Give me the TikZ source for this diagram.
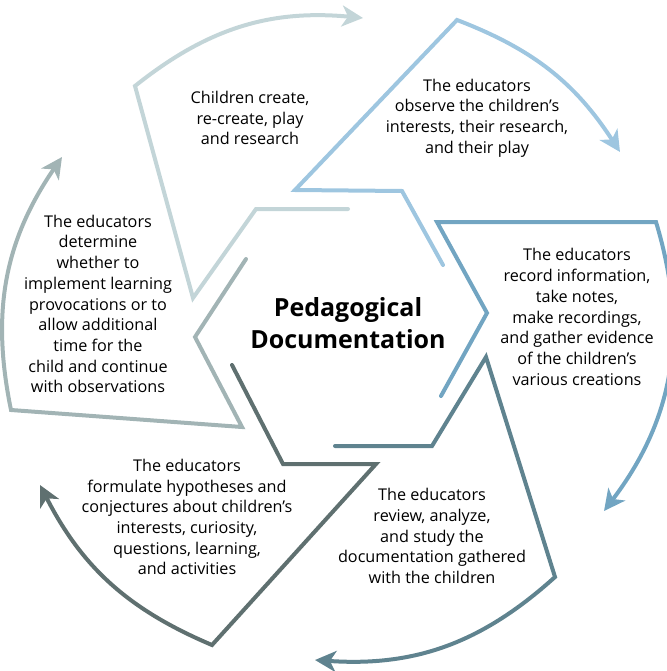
\documentclass[tikz,border=0pt]{standalone}
\usepackage{fontspec}
\setmainfont{Open Sans}
\usepackage{xcolor}
\usepackage{tikz}
\usetikzlibrary{arrows.meta}

\definecolor{stageA}{HTML}{C3D5D8}
\definecolor{stageB}{HTML}{9EC6E0}
\definecolor{stageC}{HTML}{72A5C2}
\definecolor{stageD}{HTML}{5F838F}
\definecolor{stageE}{HTML}{5F7070}
\definecolor{stageF}{HTML}{A2B4B5}

\begin{document}
\begin{tikzpicture}[x=1pt, y=-1pt,
    loopline/.style={line width=4pt, line join=miter, line cap=round,
        -{Stealth[length=21pt, width=21pt, inset=6pt]}},
    stagetext/.style={align=center, inner sep=0pt, font=\fontsize{16.2}{20.7}\selectfont},
    title/.style={align=center, inner sep=0pt, font=\fontsize{25}{32}\selectfont\bfseries}]

    \useasboundingbox (0,0) rectangle (666,671);

    \node[title] (centre) at (348,323) {Pedagogical\\Documentation};

    % stage texts
    \node[stagetext] (create) at (250,118) {Children create,\\re-create, play\\and research};
    \node[stagetext] (observe) at (477,118) {The educators\\observe the children’s\\interests, their research,\\and their play};
    \node[stagetext] (record) at (577,317) {The educators\\record information,\\take notes,\\make recordings,\\and gather evidence\\of the children’s\\various creations};
    \node[stagetext] (review) at (432,536) {The educators\\review, analyze,\\and study the\\documentation gathered\\with the children};
    \node[stagetext] (formulate) at (187,517) {The educators\\formulate hypotheses and\\conjectures about children’s\\interests, curiosity,\\questions, learning,\\and activities};
    \node[stagetext] (decide) at (98,304) {The educators\\determine\\whether to\\implement learning\\provocations or to\\allow additional\\time for the\\child and continue\\with observations};

    % corners of the stages
    \coordinate (a1) at (348,209); \coordinate (a2) at (256,209);
    \coordinate (a3) at (193,298); \coordinate (a4) at (135,86);
    \coordinate (a5) at (363,18);
    \coordinate (b1) at (443,265); \coordinate (b2) at (402,191);
    \coordinate (b3) at (295,190); \coordinate (b4) at (457,20);
    \coordinate (b5) at (620,152);
    \coordinate (c1) at (441,396); \coordinate (c2) at (487,313);
    \coordinate (c3) at (437,222); \coordinate (c4) at (656,222);
    \coordinate (c5) at (604,511);
    \coordinate (d1) at (335,446); \coordinate (d2) at (432,446);
    \coordinate (d3) at (486,357); \coordinate (d4) at (555,577);
    \coordinate (d5) at (315,660);
    \coordinate (e1) at (232,365); \coordinate (e2) at (283,464);
    \coordinate (e3) at (376,464); \coordinate (e4) at (212,645);
    \coordinate (e5) at (40,485);
    \coordinate (f1) at (246,259); \coordinate (f2) at (195,337);
    \coordinate (f3) at (242,427); \coordinate (f4) at (11,410);
    \coordinate (f5) at (62,157);

    \draw[loopline, stageA] (a1) -- (a2) -- (a3) -- (a4) to[bend left=22] (a5);
    \draw[loopline, stageB] (b1) -- (b2) -- (b3) -- (b4) to[bend left=18] (b5);
    \draw[loopline, stageC] (c1) -- (c2) -- (c3) -- (c4) to[bend left=27] (c5);
    \draw[loopline, stageD] (d1) -- (d2) -- (d3) -- (d4) to[bend left=23] (d5);
    \draw[loopline, stageE] (e1) -- (e2) -- (e3) -- (e4) to[bend left=20] (e5);
    \draw[loopline, stageF] (f1) -- (f2) -- (f3) -- (f4) to[bend left=23] (f5);

\end{tikzpicture}
\end{document}
